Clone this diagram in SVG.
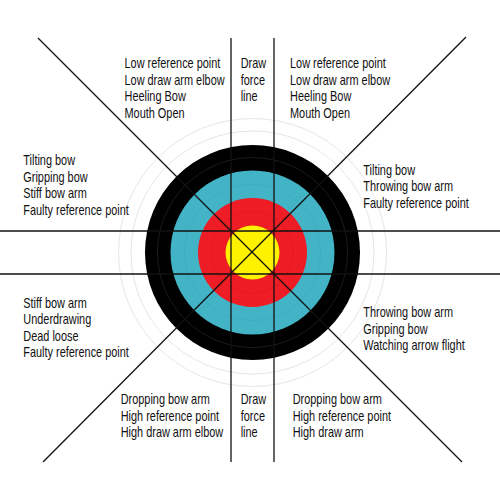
<svg xmlns="http://www.w3.org/2000/svg" width="500" height="500" viewBox="0 0 500 500">
<style>
.t{font-family:"Liberation Sans",Arial,sans-serif;font-size:14px;fill:#111}
.ln{stroke:#111;stroke-width:1.3;fill:none}
.faint{fill:none;stroke:#e6e6e6;stroke-width:1}
</style>
<rect width="500" height="500" fill="#fff"/>
<g id="target">
<circle class="faint" cx="252.5" cy="252.5" r="134"/>
<circle class="faint" cx="252.5" cy="252.5" r="121.5"/>
<circle cx="252.5" cy="252.5" r="107.5" fill="#000"/>
<circle cx="252.5" cy="252.5" r="95" fill="none" stroke="#222" stroke-width="0.8"/>
<circle cx="252.5" cy="252.5" r="82" fill="#42b4c6"/>
<circle cx="252.5" cy="252.5" r="68" fill="none" stroke="#3aa5b6" stroke-width="0.5"/>
<circle cx="252.5" cy="252.5" r="54.5" fill="#ee1c24"/>
<circle cx="252.5" cy="252.5" r="41" fill="none" stroke="#d81820" stroke-width="0.5"/>
<circle cx="252.5" cy="252.5" r="27" fill="#fff200"/>
</g>
<g id="connectors">
<line class="ln" x1="231" y1="38" x2="231" y2="462"/>
<line class="ln" x1="274" y1="38" x2="274" y2="462"/>
<line class="ln" x1="0" y1="231" x2="500" y2="231"/>
<line class="ln" x1="0" y1="274" x2="500" y2="274"/>
<line class="ln" x1="38" y1="38" x2="462" y2="462"/>
<line class="ln" x1="466" y1="37" x2="43" y2="462"/>
</g>
<g id="top-left" transform="translate(124.5,0) scale(0.78,1)">
<text class="t" x="0" y="68.5">Low reference point</text>
<text class="t" x="0" y="85">Low draw arm elbow</text>
<text class="t" x="0" y="101.5">Heeling Bow</text>
<text class="t" x="0" y="118">Mouth Open</text>
</g>
<g id="top-mid" transform="translate(240.7,0) scale(0.78,1)">
<text class="t" x="0" y="68.5">Draw</text>
<text class="t" x="0" y="85">force</text>
<text class="t" x="0" y="101.5">line</text>
</g>
<g id="top-right" transform="translate(290,0) scale(0.78,1)">
<text class="t" x="0" y="68.5">Low reference point</text>
<text class="t" x="0" y="85">Low draw arm elbow</text>
<text class="t" x="0" y="101.5">Heeling Bow</text>
<text class="t" x="0" y="118">Mouth Open</text>
</g>
<g id="left-upper" transform="translate(23.3,0) scale(0.78,1)">
<text class="t" x="0" y="165.5">Tilting bow</text>
<text class="t" x="0" y="182">Gripping bow</text>
<text class="t" x="0" y="198.5">Stiff bow arm</text>
<text class="t" x="0" y="215">Faulty reference point</text>
</g>
<g id="right-upper" transform="translate(363.3,0) scale(0.78,1)">
<text class="t" x="0" y="174.8">Tilting bow</text>
<text class="t" x="0" y="191.3">Throwing bow arm</text>
<text class="t" x="0" y="207.8">Faulty reference point</text>
</g>
<g id="left-lower" transform="translate(23.3,0) scale(0.78,1)">
<text class="t" x="0" y="308">Stiff bow arm</text>
<text class="t" x="0" y="324.5">Underdrawing</text>
<text class="t" x="0" y="341">Dead loose</text>
<text class="t" x="0" y="357.5">Faulty reference point</text>
</g>
<g id="right-lower" transform="translate(363.3,0) scale(0.78,1)">
<text class="t" x="0" y="317.2">Throwing bow arm</text>
<text class="t" x="0" y="333.7">Gripping bow</text>
<text class="t" x="0" y="350.2">Watching arrow flight</text>
</g>
<g id="bottom-left" transform="translate(120.7,0) scale(0.78,1)">
<text class="t" x="0" y="404.5">Dropping bow arm</text>
<text class="t" x="0" y="421">High reference point</text>
<text class="t" x="0" y="437.5">High draw arm elbow</text>
</g>
<g id="bottom-mid" transform="translate(240.7,0) scale(0.78,1)">
<text class="t" x="0" y="404.5">Draw</text>
<text class="t" x="0" y="421">force</text>
<text class="t" x="0" y="437.5">line</text>
</g>
<g id="bottom-right" transform="translate(292.7,0) scale(0.78,1)">
<text class="t" x="0" y="404.5">Dropping bow arm</text>
<text class="t" x="0" y="421">High reference point</text>
<text class="t" x="0" y="437.5">High draw arm</text>
</g>
</svg>
